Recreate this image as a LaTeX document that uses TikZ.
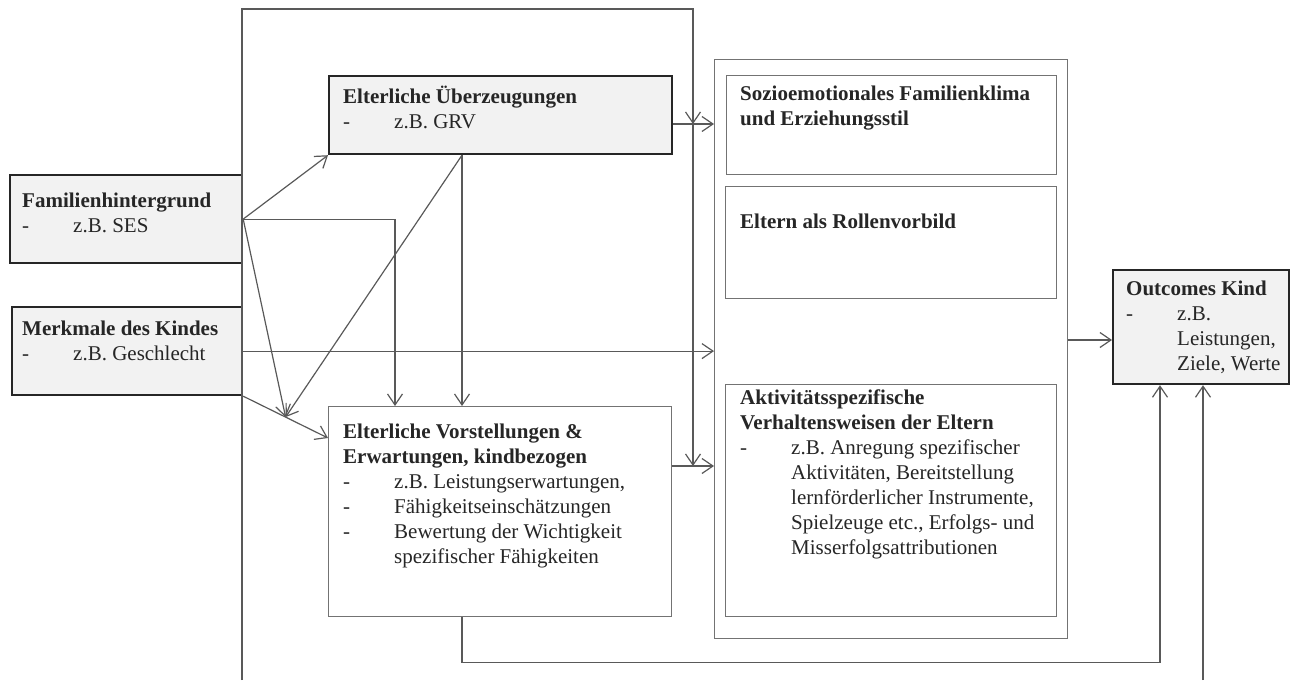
\documentclass[tikz,border=0pt]{standalone}
\usepackage{fontspec}
\setmainfont{Liberation Serif}
\usetikzlibrary{arrows.meta, calc, positioning}

\tikzset{
  graybox/.style={draw=black!85, line width=2.2pt, fill=black!5, inner sep=0pt, anchor=north west},
  whitebox/.style={draw=black!55, line width=1.4pt, fill=white, inner sep=0pt, anchor=north west},
  boxtext/.style={inner sep=0pt, anchor=north west, align=left, text=black!85, font=\fontsize{21}{25}\selectfont},
  conn/.style={draw=black!65, line width=1.2pt},
  arr/.style={conn, -{Straight Barb[length=11pt, width=15pt, line width=1.2pt]}}
}
\newcommand{\dsh}{\makebox[51pt][l]{-}}
\newcommand{\ind}{\hspace*{51pt}}

\begin{document}
\begin{tikzpicture}[x=1pt, y=-1pt]
  \useasboundingbox (0,0) rectangle (1301,680);

  % boxes
  \node[whitebox, minimum width=353pt, minimum height=579pt] (cont) at (714,59) {};
  \node[whitebox, minimum width=330pt, minimum height=99pt] (soz) at (726,75) {};
  \node[whitebox, minimum width=331pt, minimum height=112pt] (rol) at (725,186) {};
  \node[whitebox, minimum width=331pt, minimum height=232pt] (akt) at (725,384) {};
  \node[graybox, minimum width=232pt, minimum height=88pt] (fam) at (9,174) {};
  \node[graybox, minimum width=230pt, minimum height=88pt] (merk) at (11,306) {};
  \node[graybox, minimum width=343pt, minimum height=78pt] (ueb) at (328,75) {};
  \node[whitebox, minimum width=343pt, minimum height=210pt] (vor) at (328,406) {};
  \node[graybox, minimum width=176pt, minimum height=114pt] (out) at (1112,269) {};

  % texts
  \node[boxtext] (famtxt) at (22,189.5) {\strut\textbf{Familienhintergrund}\\ \dsh z.B. SES};
  \node[boxtext] (merktxt) at (22,317.5) {\strut\textbf{Merkmale des Kindes}\\ \dsh z.B. Geschlecht};
  \node[boxtext] (uebtxt) at (343,85.5) {\strut\textbf{Elterliche Überzeugungen}\\ \dsh z.B. GRV};
  \node[boxtext] (vortxt) at (343,420.5) {\strut\textbf{Elterliche Vorstellungen \&}\\
    \textbf{Erwartungen, kindbezogen}\\
    \dsh z.B. Leistungserwartungen,\\
    \dsh Fähigkeitseinschätzungen\\
    \dsh Bewertung der Wichtigkeit\\
    \ind spezifischer Fähigkeiten};
  \node[boxtext] (soztxt) at (740,82.5) {\strut\textbf{Sozioemotionales Familienklima}\\ \textbf{und Erziehungsstil}};
  \node[boxtext] (roltxt) at (740,210.5) {\strut\textbf{Eltern als Rollenvorbild}};
  \node[boxtext] (akttxt) at (740,386.5) {\strut\textbf{Aktivitätsspezifische}\\
    \textbf{Verhaltensweisen der Eltern}\\
    \dsh z.B. Anregung spezifischer\\
    \ind Aktivitäten, Bereitstellung\\
    \ind lernförderlicher Instrumente,\\
    \ind Spielzeuge etc., Erfolgs- und\\
    \ind Misserfolgsattributionen};
  \node[boxtext] (outtxt) at (1126,277.5) {\strut\textbf{Outcomes Kind}\\
    \dsh z.B.\\
    \ind Leistungen,\\
    \ind Ziele, Werte};

  % helper points
  \coordinate (fbin) at (242,680);
  \coordinate (fbtop) at (693,9);
  \coordinate (fbout) at (1203,680);
  \coordinate (uebout) at (ueb.east |- 0,124);
  \coordinate (vorout) at (vor.east |- 0,466);
  \coordinate (contout) at (cont.east |- 0,340);
  \coordinate (vorin) at (vor.west |- 0,438);
  \coordinate (mod) at ($(merk.south east)!0.5!(vorin)$);
  \coordinate (uebdown) at ([xshift=134pt]ueb.south west);
  \coordinate (vordown) at ([xshift=134pt]vor.south west);

  % feedback frame
  \draw[arr] (fbin) |- (fbtop) -- (fbtop |- uebout);
  \draw[arr] (fbtop |- uebout) -- (fbtop |- vorout);

  % connectors
  \draw[arr] (uebout) -- (uebout -| cont.west);
  \draw[arr] (merk.east) -- (merk.east -| cont.west);
  \draw[arr] (vorout) -- (vorout -| cont.west);
  \draw[arr] (contout) -- (contout -| out.west);
  \draw[arr] (fam.east) -- (ueb.south west);
  \draw[arr] (fam.east) -| ([xshift=67pt]vor.north west);
  \draw[arr] (fam.east) -- (mod);
  \draw[arr] (uebdown) -- (mod);
  \draw[arr] (uebdown) -- (uebdown |- vor.north);
  \draw[arr] (merk.south east) -- (vorin);
  \draw[arr] (vordown) -- ++(0,45) -| ([xshift=48pt]out.south west);
  \draw[arr] (fbout) -- (fbout |- out.south);
\end{tikzpicture}
\end{document}
